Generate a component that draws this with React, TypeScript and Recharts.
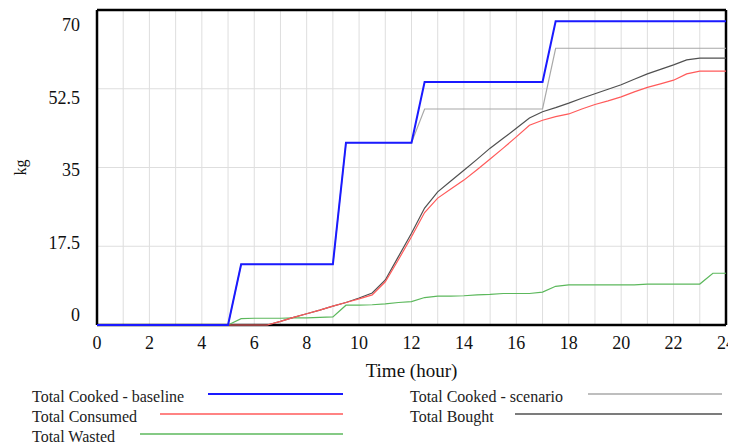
import React from "react";
import { LineChart, Line, XAxis, YAxis, CartesianGrid, ReferenceLine, Label } from "recharts";

// time steps (hour)
const hours = [
  0, 0.5, 1, 1.5, 2, 2.5, 3, 3.5, 4, 4.5, 5, 5.5, 6, 6.5, 7, 7.5, 8, 8.5, 9, 9.5,
  10, 10.5, 11, 11.5, 12, 12.5, 13, 13.5, 14, 14.5, 15, 15.5, 16, 16.5, 17, 17.5,
  18, 18.5, 19, 19.5, 20, 20.5, 21, 21.5, 22, 22.5, 23, 23.5, 24,
];

// kg
const cookedBaseline = [
  0, 0, 0, 0, 0, 0, 0, 0, 0, 0, 0,
  13.5, 13.5, 13.5, 13.5, 13.5, 13.5, 13.5, 13.5,
  40.5, 40.5, 40.5, 40.5, 40.5, 40.5,
  54, 54, 54, 54, 54, 54, 54, 54, 54, 54,
  67.5, 67.5, 67.5, 67.5, 67.5, 67.5, 67.5, 67.5, 67.5, 67.5, 67.5, 67.5, 67.5, 67.5,
];
const cookedScenario = [
  0, 0, 0, 0, 0, 0, 0, 0, 0, 0, 0,
  13.5, 13.5, 13.5, 13.5, 13.5, 13.5, 13.5, 13.5,
  40.5, 40.5, 40.5, 40.5, 40.5, 40.5,
  48, 48, 48, 48, 48, 48, 48, 48, 48, 48,
  61.5, 61.5, 61.5, 61.5, 61.5, 61.5, 61.5, 61.5, 61.5, 61.5, 61.5, 61.5, 61.5, 61.5,
];
const consumed = [
  0, 0, 0, 0, 0, 0, 0, 0, 0, 0, 0, 0, 0, 0,
  0.8, 1.7, 2.5, 3.3, 4.2, 5.0, 5.8, 6.7, 9.6, 14.5, 19.6, 25, 28.2, 30.2, 32.2,
  34.5, 36.9, 39.3, 41.8, 44.4, 45.5, 46.3, 46.9, 48, 49, 49.8, 50.7, 51.8, 52.8,
  53.6, 54.4, 55.8, 56.4, 56.4, 56.4,
];
const bought = [
  0, 0, 0, 0, 0, 0, 0, 0, 0, 0, 0, 0, 0, 0,
  0.8, 1.7, 2.5, 3.3, 4.2, 5.0, 6.0, 7.1, 10.0, 15.2, 20.4, 26, 29.6, 32, 34.4,
  36.8, 39.3, 41.5, 43.7, 46, 47.4, 48.3, 49.3, 50.4, 51.4, 52.4, 53.4, 54.6, 55.8,
  56.8, 57.8, 58.9, 59.3, 59.3, 59.3,
];
const wasted = [
  0, 0, 0, 0, 0, 0, 0, 0, 0, 0, 0,
  1.4, 1.5, 1.5, 1.5, 1.6, 1.6, 1.7, 1.8, 4.4, 4.4, 4.5, 4.7, 5.0, 5.2, 6.1, 6.4,
  6.4, 6.5, 6.7, 6.8, 7.0, 7.0, 7.0, 7.3, 8.6, 8.9, 8.9, 8.9, 8.9, 8.9, 8.9, 9.1,
  9.1, 9.1, 9.1, 9.1, 11.5, 11.5,
];

const xTicks = [0, 2, 4, 6, 8, 10, 12, 14, 16, 18, 20, 22, 24];
const yTicks = [0, 17.5, 35, 52.5, 70];
const gridHours = [1, 2, 3, 4, 5, 6, 7, 8, 9, 10, 11, 12, 13, 14, 15, 16, 17, 18, 19, 20, 21, 22, 23];

const data = hours.map((h, i) => ({
  hour: h,
  baseline: cookedBaseline[i],
  scenario: cookedScenario[i],
  consumed: consumed[i],
  bought: bought[i],
  wasted: wasted[i],
}));

const FONT = '"Liberation Serif", "Times New Roman", serif';

const BLUE = "#1a1aff";
const GRAY = "#a8a8a8";
const RED = "#ff5a5a";
const DARK = "#505050";
const GREEN = "#5cb85c";

// Vensim-style: y labels spread a bit tighter than the grid (top label at 17, bottom at 307)
const YTick = (props: any) => {
  const { x, payload } = props;
  const v = Number(payload.value);
  const ty = 17 + ((70 - v) / 70) * 290;
  return (
    <text x={x - 17} y={ty} dy="0.35em" textAnchor="end" fontSize={18} fontFamily={FONT} fill="#111">
      {payload.value}
    </text>
  );
};

const XTick = (props: any) => {
  const { x, y, payload } = props;
  return (
    <text x={x} y={y + 24} textAnchor="middle" fontSize={18} fontFamily={FONT} fill="#111">
      {payload.value}
    </text>
  );
};

const legendItems = [
  { name: "Total Cooked - baseline", color: BLUE, tx: 24, x1: 200, x2: 335, y: 388, w: 2 },
  { name: "Total Consumed", color: RED, tx: 24, x1: 152, x2: 335, y: 408, w: 1.5 },
  { name: "Total Wasted", color: GREEN, tx: 24, x1: 132, x2: 335, y: 428, w: 1.5 },
  { name: "Total Cooked - scenario", color: GRAY, tx: 402, x1: 580, x2: 714, y: 388, w: 1.5 },
  { name: "Total Bought", color: DARK, tx: 402, x1: 507, x2: 714, y: 408, w: 1.5 },
];

export default function App() {
  return (
    <div style={{ position: "relative", width: 728, height: 436 }}>
      <LineChart width={728} height={380} data={data} margin={{ top: 2, right: 10, left: 0, bottom: 0 }}>
        <CartesianGrid vertical={false} stroke="#dedede" />
        {gridHours.map((h) => (
          <ReferenceLine key={h} x={h} stroke="#dedede" />
        ))}
        <ReferenceLine y={0} stroke="#000" strokeWidth={2.5} />
        <ReferenceLine y={70} stroke="#000" strokeWidth={2.5} />
        <ReferenceLine x={0} stroke="#000" strokeWidth={2.5} />
        <ReferenceLine x={24} stroke="#000" strokeWidth={2.5} />
        <XAxis
          dataKey="hour"
          type="number"
          domain={[0, 24]}
          ticks={xTicks}
          tick={<XTick />}
          tickLine={false}
          tickSize={0}
          tickMargin={0}
          height={63}
          axisLine={false}
        >
          <Label
            value="Time (hour)"
            position="insideBottom"
            offset={11}
            style={{ fontSize: 19, fontFamily: FONT, fill: "#111" }}
          />
        </XAxis>
        <YAxis
          type="number"
          domain={[0, 70]}
          ticks={yTicks}
          tick={<YTick />}
          tickLine={false}
          tickSize={0}
          tickMargin={0}
          width={89}
          axisLine={false}
        >
          <Label
            value="kg"
            angle={-90}
            position="insideLeft"
            offset={12}
            style={{ fontSize: 16, fontFamily: FONT, fill: "#111", textAnchor: "middle" }}
          />
        </YAxis>
        <Line type="linear" dataKey="scenario" stroke={GRAY} strokeWidth={1.2} dot={false} isAnimationActive={false} />
        <Line type="linear" dataKey="wasted" stroke={GREEN} strokeWidth={1.2} dot={false} isAnimationActive={false} />
        <Line type="linear" dataKey="bought" stroke={DARK} strokeWidth={1.2} dot={false} isAnimationActive={false} />
        <Line type="linear" dataKey="consumed" stroke={RED} strokeWidth={1.2} dot={false} isAnimationActive={false} />
        <Line type="linear" dataKey="baseline" stroke={BLUE} strokeWidth={2} dot={false} isAnimationActive={false} />
      </LineChart>
      <svg width={728} height={436} style={{ position: "absolute", left: 0, top: 0, pointerEvents: "none" }}>
        {legendItems.map((it) => (
          <g key={it.name}>
            <text x={it.tx} y={it.y} dy="0.35em" fontSize={16} fontFamily={FONT} fill="#222">
              {it.name}
            </text>
            <line x1={it.x1} x2={it.x2} y1={it.y - 2} y2={it.y - 2} stroke={it.color} strokeWidth={it.w} />
          </g>
        ))}
      </svg>
    </div>
  );
}
